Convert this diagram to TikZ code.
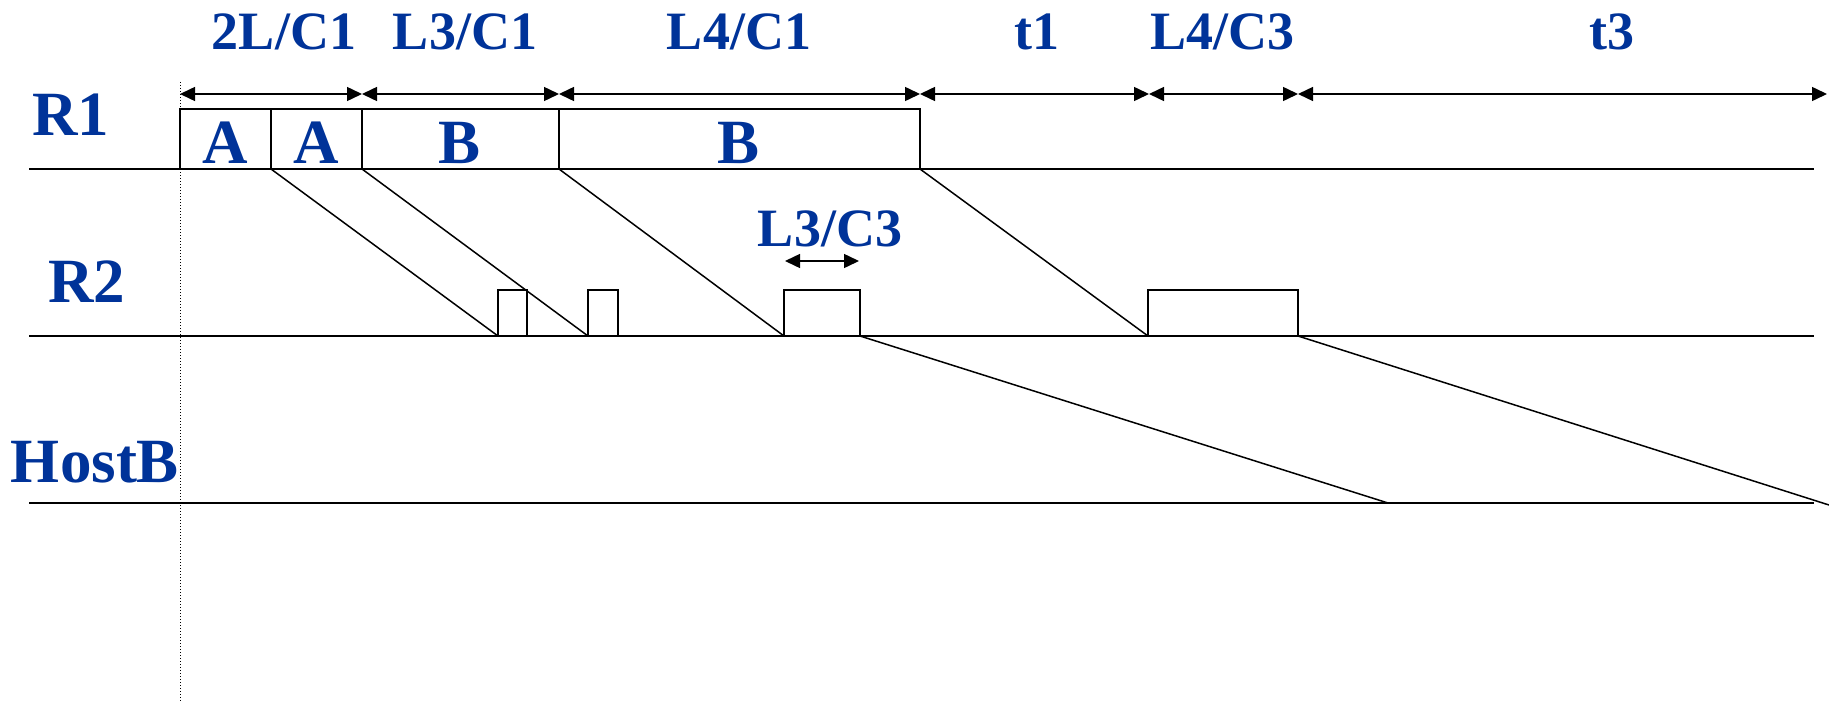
\documentclass[tikz,border=0pt]{standalone}
\usepackage{fontspec}
\setmainfont{Liberation Serif}
\usetikzlibrary{arrows.meta}
\definecolor{lblue}{RGB}{0,51,153}
\begin{document}
\begin{tikzpicture}[x=1pt,y=-1pt,
  lbl/.style={text=lblue,font=\fontsize{54}{58}\selectfont\bfseries,inner sep=0,anchor=base},
  biglbl/.style={lbl,font=\fontsize{63}{66}\selectfont\bfseries},
  base/.style={line width=2pt},
  pkt/.style={draw,line width=1.5pt,inner sep=0,outer sep=0,anchor=south west},
  pktlbl/.style={biglbl},
  wire/.style={line width=1.5pt},
  dim/.style={line width=1.5pt,{Triangle[length=15pt,width=14pt]}-{Triangle[length=15pt,width=14pt]}}
]
\useasboundingbox (0,0) rectangle (1829,701);

% time lines
\coordinate (r1l) at (29,169);  \coordinate (r1r) at (1814,169);
\coordinate (r2l) at (29,336);  \coordinate (r2r) at (1814,336);
\coordinate (hbl) at (29,503);  \coordinate (hbr) at (1814,503);
\draw[base] (r1l) -- (r1r);
\draw[base] (r2l) -- (r2r);
\draw[base] (hbl) -- (hbr);

% dotted start line
\coordinate (dtop) at (180,82); \coordinate (dbot) at (180,701);
\draw[dotted,line width=1pt] (dtop) -- (dbot);

% row labels
\node[biglbl] (R1) at (71,135) {R1};
\node[biglbl] (R2) at (87,302) {R2};
\node[biglbl] (HB) at (95,482) {HostB};

% R1 packets
\node[pkt,minimum width=91,minimum height=60] (a1) at (180,169) {};
\node[pkt,minimum width=91,minimum height=60] (a2) at (271,169) {};
\node[pkt,minimum width=197,minimum height=60] (b1) at (362,169) {};
\node[pkt,minimum width=361,minimum height=60] (b2) at (559,169) {};
\node[pktlbl] (ta1) at (225,163) {A};
\node[pktlbl] (ta2) at (316,163) {A};
\node[pktlbl] (tb1) at (460,163) {B};
\node[pktlbl] (tb2) at (739,163) {B};

% R2 packets
\node[pkt,minimum width=29,minimum height=46] (p1) at (498,336) {};
\node[pkt,minimum width=30,minimum height=46] (p2) at (588,336) {};
\node[pkt,minimum width=76,minimum height=46] (p3) at (784,336) {};
\node[pkt,minimum width=150,minimum height=46] (p4) at (1148,336) {};

% propagation lines R1 -> R2
\draw[wire] (a1.south east) -- (p1.south west);
\draw[wire] (a2.south east) -- (p2.south west);
\draw[wire] (b1.south east) -- (p3.south west);
\draw[wire] (b2.south east) -- (p4.south west);

% propagation lines R2 -> HostB
\coordinate (h1) at (1388,503);
\coordinate (h2) at (1829,505);
\draw[wire] (p3.south east) -- (h1);
\draw[wire] (p4.south east) -- (h2);

% dimension arrows on top
\coordinate (t0) at (180,94);
\coordinate (t1) at (362,94);
\coordinate (t2) at (559,94);
\coordinate (t3) at (920,94);
\coordinate (t4) at (1149,94);
\coordinate (t5) at (1298,94);
\coordinate (t6) at (1827,94);
\draw[dim] (t0) -- (t1);
\draw[dim] (t1) -- (t2);
\draw[dim] (t2) -- (t3);
\draw[dim] (t3) -- (t4);
\draw[dim] (t4) -- (t5);
\draw[dim] (t5) -- (t6);

% top labels
\node[lbl] (l1) at (284,50) {2L/C1};
\node[lbl] (l2) at (465,50) {L3/C1};
\node[lbl] (l3) at (739,50) {L4/C1};
\node[lbl] (l4) at (1037,50) {t1};
\node[lbl] (l5) at (1222,50) {L4/C3};
\node[lbl] (l6) at (1612,50) {t3};

% L3/C3 annotation
\node[lbl] (l7) at (830,246) {L3/C3};
\coordinate (s0) at (785,261);
\coordinate (s1) at (859,261);
\draw[dim] (s0) -- (s1);
\end{tikzpicture}
\end{document}
